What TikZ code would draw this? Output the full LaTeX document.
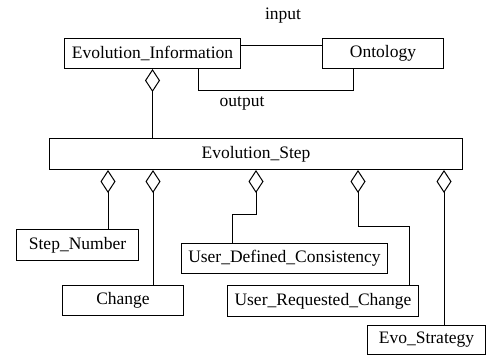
\documentclass[tikz,border=0pt]{standalone}
\usepackage{fontspec}
\setmainfont{Liberation Serif}
\usetikzlibrary{arrows.meta}
\tikzset{
  cls/.style={draw,rectangle,line width=1pt,inner sep=0pt,anchor=north west,font=\fontsize{17.5}{20}\selectfont},
  lbl/.style={font=\fontsize{17.5}{20}\selectfont},
  lnk/.style={line width=1pt},
  agg/.style={lnk,{Diamond[open,length=23pt,width=15pt]}-}
}
\begin{document}
\begin{tikzpicture}[x=1pt,y=-1pt]
  \useasboundingbox (0,0) rectangle (486,354);
  % classes
  \node[cls, minimum width=176pt, minimum height=30pt] (evoinfo) at (64,38) {Evolution\_Information};
  \node[cls, minimum width=121pt, minimum height=30pt] (ontology) at (322,38) {Ontology};
  \node[cls, minimum width=413pt, minimum height=31pt] (evostep) at (49,138) {Evolution\_Step};
  \node[cls, minimum width=122pt, minimum height=31pt] (stepnum) at (16,229) {Step\_Number};
  \node[cls, minimum width=121pt, minimum height=30pt] (change) at (62,285) {Change};
  \node[cls, minimum width=206pt, minimum height=30pt] (udc) at (181,243) {User\_Defined\_Consistency};
  \node[cls, minimum width=191pt, minimum height=31pt] (urc) at (227,285) {User\_Requested\_Change};
  \node[cls, minimum width=118pt, minimum height=29pt] (evostrat) at (367,325) {Evo\_Strategy};

  % input / output
  \draw[lnk] ([yshift=-7pt]evoinfo.north east) -- ([yshift=-7pt]ontology.north west);
  \draw[lnk] ([xshift=-43pt]evoinfo.south east) -- ++(0,21) -| ([xshift=-30pt]ontology.south);
  \node[lbl] (inlbl) at (283,16) {input};
  \node[lbl] (outlbl) at (242,103) {output};

  % aggregations
  \draw[agg] (evoinfo.south) -- (evoinfo.south |- evostep.north);
  \coordinate (d1) at ([xshift=-148pt]evostep.south);
  \coordinate (d2) at ([xshift=-103pt]evostep.south);
  \coordinate (d3) at (evostep.south);
  \coordinate (d4) at ([xshift=102pt]evostep.south);
  \coordinate (d5) at ([xshift=188pt]evostep.south);
  \draw[agg] (d1) -- (d1 |- stepnum.north);
  \draw[agg] (d2) -- (d2 |- change.north);
  \draw[agg] (d3) -- ++(0,44) -| ([xshift=-52pt]udc.north);
  \draw[agg] (d4) -- ++(0,56) -| ([xshift=-10pt]urc.north east);
  \draw[agg] (d5) -- (d5 |- evostrat.north);
\end{tikzpicture}
\end{document}
